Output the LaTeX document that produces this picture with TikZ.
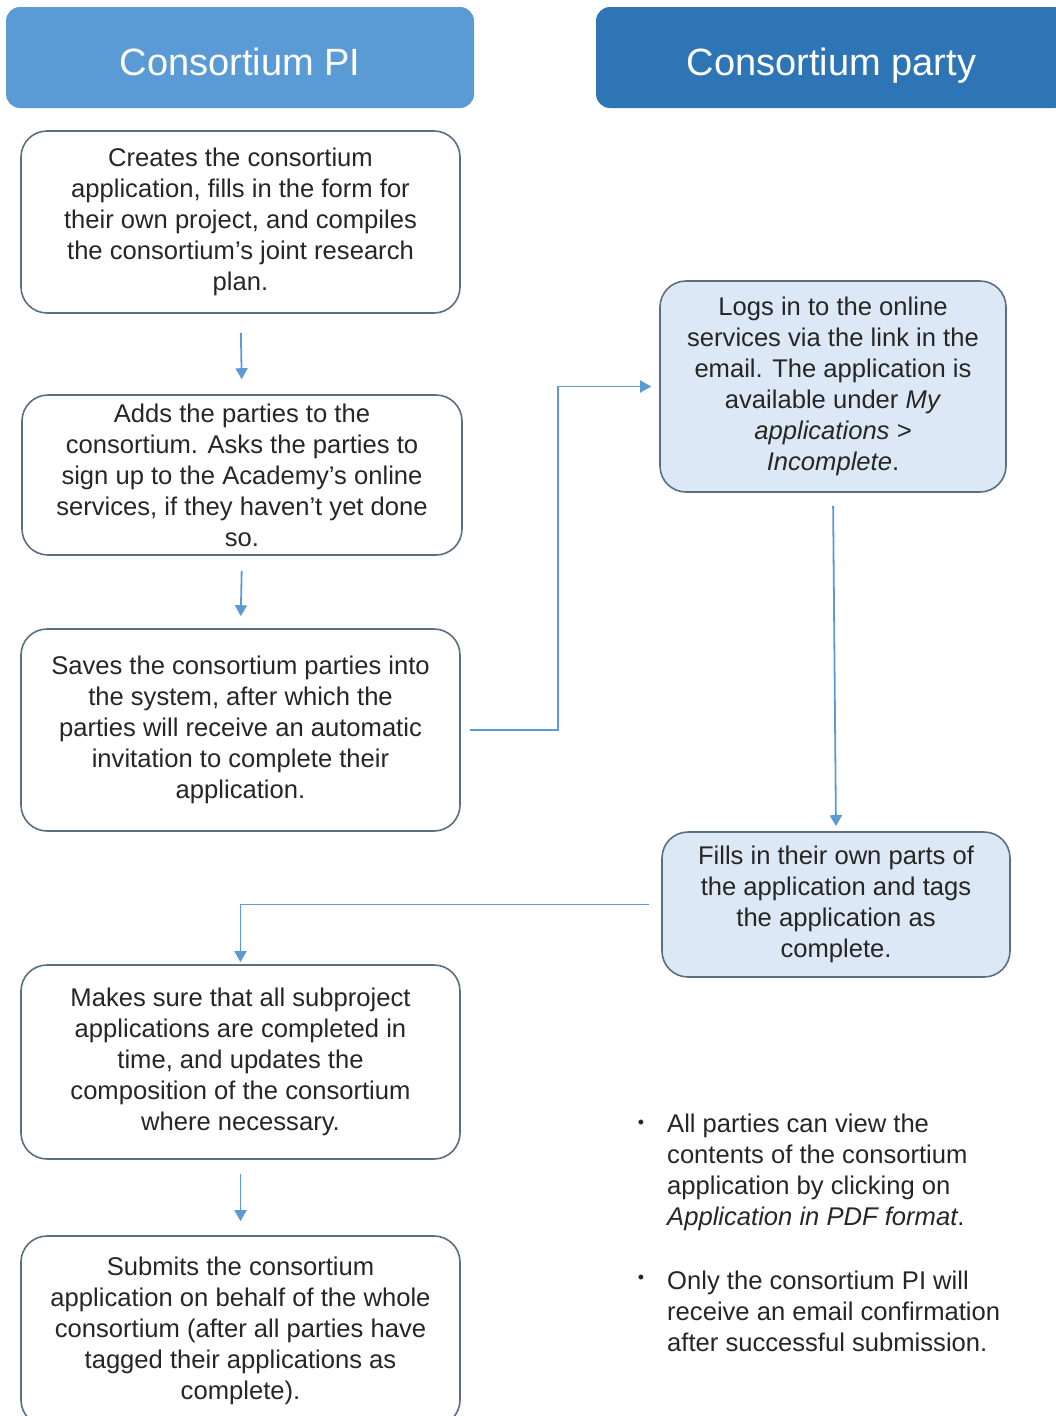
\documentclass[tikz,border=0pt]{standalone}
\usepackage{fontspec}
\setmainfont{Liberation Sans}
\usetikzlibrary{arrows.meta}
\definecolor{hdrA}{HTML}{5B9BD5}
\definecolor{hdrB}{HTML}{2E75B6}
\definecolor{bord}{HTML}{5B6F82}
\definecolor{lite}{HTML}{DCE8F5}
\definecolor{txt}{HTML}{262626}
\definecolor{arr}{HTML}{5B9BD5}
\begin{document}
\begin{tikzpicture}[x=1pt,y=-1pt,
 hdr/.style={rounded corners=14pt, inner sep=0pt, text=white, text height=35pt, text depth=0pt, font=\fontsize{38}{44}\selectfont},
 stepbox/.style={draw=bord, line width=1.6pt, rounded corners=26pt, fill=white, inner sep=0pt, align=center, text=txt, font=\fontsize{25.6}{31}\selectfont, execute at begin node={\rule{0pt}{26pt}}},
 litebox/.style={stepbox, fill=lite},
 conn/.style={draw=arr, line width=1.8pt, -{Triangle[width=12pt,length=11pt]}},
 note/.style={inner sep=0pt, align=left, anchor=west, text=txt, font=\fontsize{25.6}{31}\selectfont}
]
\useasboundingbox (0,0) rectangle (1056,1416);
\clip (0,0) rectangle (1056,1416);
\fill[white] (0,0) rectangle (1056,1416);

% headers
\node[hdr, fill=hdrA, minimum width=468pt, minimum height=101pt] (h1) at (240,57.5) {Consortium PI};
\node[hdr, fill=hdrB, minimum width=471pt, minimum height=101pt] (h2) at (831.5,57.5) {Consortium party};

% left column
\node[stepbox, minimum width=439pt, minimum height=182pt] (b1) at (240.5,222)
 {Creates the consortium\\application, fills in the form for\\their own project, and compiles\\the consortium’s joint research\\plan.};
\node[stepbox, minimum width=440pt, minimum height=160pt] (b2) at (242,475)
 {Adds the parties to the\\consortium. Asks the parties to\\sign up to the Academy’s online\\services, if they haven’t yet done\\so.};
\node[stepbox, minimum width=439pt, minimum height=202pt] (b3) at (240.5,730)
 {Saves the consortium parties into\\the system, after which the\\parties will receive an automatic\\invitation to complete their\\application.};
\node[stepbox, minimum width=439pt, minimum height=194pt] (b6) at (240.5,1062)
 {Makes sure that all subproject\\applications are completed in\\time, and updates the\\composition of the consortium\\where necessary.};
\node[stepbox, minimum width=439pt, minimum height=190pt] (b7) at (240.5,1331)
 {Submits the consortium\\application on behalf of the whole\\consortium (after all parties have\\tagged their applications as\\complete).};

% right column
\node[litebox, minimum width=346pt, minimum height=211pt] (b4) at (833,386.5)
 {Logs in to the online\\services via the link in the\\email. The application is\\available under \textit{My}\\\textit{applications >}\\\textit{Incomplete}.};
\node[litebox, minimum width=348pt, minimum height=145pt] (b5) at (836,904.5)
 {Fills in their own parts of\\the application and tags\\the application as\\complete.};

% notes
\node[inner sep=0pt, text=txt, font=\fontsize{18}{20}\selectfont] (d1) at (641,1124) {•};
\node[note] (n1) at (667,1172) {All parties can view the\\contents of the consortium\\application by clicking on\\\textit{Application in PDF format}.};
\node[inner sep=0pt, text=txt, font=\fontsize{18}{20}\selectfont] (d2) at (641,1279) {•};
\node[note] (n2) at (667,1311.5) {Only the consortium PI will\\receive an email confirmation\\after successful submission.};

% connectors
\draw[conn, shorten <=19pt, shorten >=15pt] (b1.south) -- (b2.north);
\draw[conn, shorten <=15pt, shorten >=12pt] (b2.south) -- (b3.north);
\draw[conn, shorten <=14pt, shorten >=14pt] (b6.south) -- (b7.north);
\draw[conn, shorten <=9pt, shorten >=8pt] (b3.east) -- ++(97,0) |- (b4.west);
\draw[conn, shorten <=13pt, shorten >=5pt] (b4.south) -- (b5.north);
\draw[conn, shorten <=12pt, shorten >=2pt] (b5.west) -| (b6.north);
\end{tikzpicture}
\end{document}
